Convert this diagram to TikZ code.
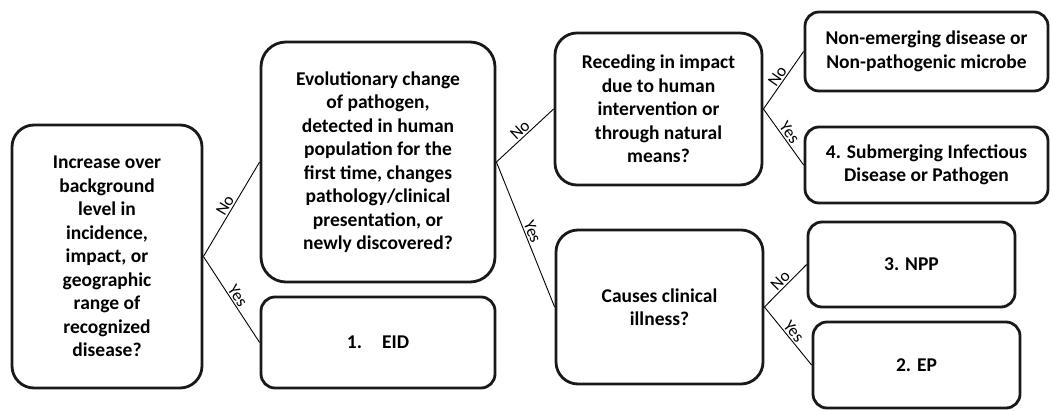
\documentclass[tikz,border=0pt]{standalone}
\usepackage{fontspec}
\setmainfont{Carlito}
\begin{document}
\begin{tikzpicture}[x=1pt,y=-1pt,
  box/.style={draw=black!90, line width=2.8pt, rectangle, rounded corners=#1, inner sep=0pt, align=center,
    font=\bfseries\fontsize{19.5}{23.5}\selectfont},
  box/.default=14pt,
  conn/.style={draw=black, line width=0.9pt},
  lbl/.style={midway, sloped, above, inner sep=1.5pt, font=\fontsize{17}{17}\selectfont}]
\useasboundingbox (0,0) rectangle (1051,411);
\node[box=22pt, minimum width=190pt, minimum height=263pt] (A) at (107,256.5)
  {Increase over\\background\\level in\\incidence,\\impact, or\\geographic\\range of\\recognized\\disease?};
\node[box=25pt, minimum width=234pt, minimum height=240pt] (B) at (378,162)
  {Evolutionary change\\of pathogen,\\detected in human\\population for the\\first time, changes\\pathology/clinical\\presentation, or\\newly discovered?};
\node[box, minimum width=234pt, minimum height=91pt] (EID) at (378,342.5) {1.\hspace{20pt}EID};
\node[box=22pt, minimum width=207pt, minimum height=152pt] (C) at (658.5,109)
  {Receding in impact\\due to human\\intervention or\\through natural\\means?};
\node[box=22pt, minimum width=207pt, minimum height=154pt] (D) at (659.5,307)
  {Causes clinical\\illness?};
\node[box, minimum width=243pt, minimum height=79pt] (E) at (926.5,51.5)
  {Non-emerging disease or\\Non-pathogenic microbe};
\node[box, minimum width=243pt, minimum height=76pt] (F) at (926.5,165)
  {4. Submerging Infectious\\Disease or Pathogen};
\node[box, minimum width=207pt, minimum height=85pt] (NPP) at (911.5,264.5) {3. NPP};
\node[box, minimum width=207pt, minimum height=86pt] (EP) at (916.5,365) {2. EP};
\draw[conn] (A.east) -- node[lbl]{No} (B.west);
\draw[conn] (A.east) -- node[lbl]{Yes} (EID.west);
\draw[conn] (B.east) -- node[lbl]{No} (C.west);
\draw[conn] (B.east) -- node[lbl]{Yes} (D.west);
\draw[conn] (C.east) -- node[lbl]{No} (E.west);
\draw[conn] (C.east) -- node[lbl]{Yes} (F.west);
\draw[conn] (D.east) -- node[lbl]{No} (NPP.west);
\draw[conn] (D.east) -- node[lbl]{Yes} (EP.west);
\end{tikzpicture}
\end{document}
